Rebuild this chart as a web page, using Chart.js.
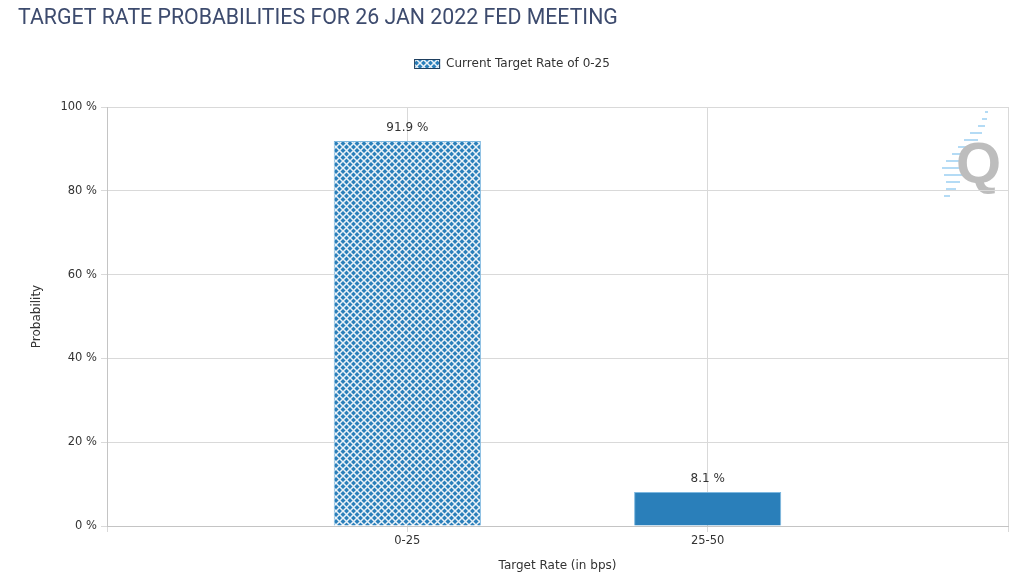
<!DOCTYPE html>
<html>
<head>
<meta charset="utf-8">
<script src="https://cdn.jsdelivr.net/npm/chart.js@4.4.1/dist/chart.umd.min.js"></script>
<style>
  html, body { margin: 0; padding: 0; background: #fff; }
  #wrap { position: relative; width: 1024px; height: 573px; }
</style>
</head>
<body>
<div id="wrap"><canvas id="rateChart" width="1024" height="573"></canvas></div>
<script>
const chartTitle = "TARGET RATE PROBABILITIES FOR 26 JAN 2022 FED MEETING";
const legendLabel = "Current Target Rate of 0-25";
const categories = ["0-25", "25-50"];
const probabilities = [91.9, 8.1];
const yTicks = [0, 20, 40, 60, 80, 100];

const barBlue = "#2a7fba";
const gridGrey = "#d9d9d9";
const textGrey = "#333333";
const uiFont = "'DejaVu Sans', Verdana, sans-serif";

// crosshatch fill for the current-rate bar
function makeHatch() {
  const size = 7;
  const tile = document.createElement("canvas");
  tile.width = size;
  tile.height = size;
  const c = tile.getContext("2d");
  c.fillStyle = barBlue;
  c.fillRect(0, 0, size, size);
  c.strokeStyle = "rgba(255,255,255,0.9)";
  c.lineWidth = 1.5;
  c.beginPath();
  c.moveTo(0, 0); c.lineTo(size, size);
  c.moveTo(size, 0); c.lineTo(0, size);
  c.stroke();
  return c.createPattern(tile, "repeat");
}

const ctx = document.getElementById("rateChart");
const hatch = makeHatch();

// category axis padded with empty slots so the two bars sit at 1/3 and 2/3
const axisLabels = ["", ...categories, ""];
const axisData = [null, ...probabilities, null];

// watermark dashes: [offset from top, left offset from right, right offset from right]
const logoDashes = [
  [5, 23, 20], [12, 26, 21], [19, 30, 23], [26, 38, 26], [33, 44, 30],
  [40, 50, 38], [47, 56, 42], [54, 62, 44], [61, 66, 45], [68, 64, 45],
  [75, 62, 48], [82, 62, 52], [89, 64, 58]
];

const decorPlugin = {
  id: "decor",
  beforeDraw(chart) {
    const c = chart.ctx;
    const area = chart.chartArea;
    c.save();
    c.strokeStyle = "rgba(130,195,238,0.6)";
    c.lineWidth = 2;
    logoDashes.forEach(([dy, l, r]) => {
      c.beginPath();
      c.moveTo(area.right - l, area.top + dy);
      c.lineTo(area.right - r, area.top + dy);
      c.stroke();
    });
    c.fillStyle = "#bdbdbd";
    c.font = "bold 58px 'Liberation Sans Narrow', 'Liberation Sans', sans-serif";
    c.textAlign = "right";
    c.textBaseline = "alphabetic";
    c.fillText("Q", area.right - 7, area.top + 76);
    c.restore();
  },
  afterDraw(chart) {
    const c = chart.ctx;
    c.save();
    // title
    c.fillStyle = "#3d4b6e";
    c.font = "21.3px Roboto, 'Liberation Sans', sans-serif";
    c.textAlign = "left";
    c.textBaseline = "middle";
    c.fillText(chartTitle, 18, 19);
    // legend
    c.font = "12px " + uiFont;
    const tw = c.measureText(legendLabel).width;
    const boxW = 26, boxH = 10, gap = 6;
    const lx = (chart.width - (boxW + gap + tw)) / 2;
    c.fillStyle = hatch;
    c.fillRect(lx, 59, boxW, boxH);
    c.strokeStyle = "#1f3f5f";
    c.lineWidth = 1;
    c.strokeRect(lx + 0.5, 59.5, boxW - 1, boxH - 1);
    c.fillStyle = textGrey;
    c.fillText(legendLabel, lx + boxW + gap, 64);
    // value labels
    c.textAlign = "center";
    c.textBaseline = "bottom";
    const meta = chart.getDatasetMeta(0);
    meta.data.forEach((bar, i) => {
      const v = axisData[i];
      if (v === null) return;
      c.fillText(v.toFixed(1) + " %", bar.x, bar.y - 7);
    });
    c.restore();
  }
};

new Chart(ctx, {
  type: "bar",
  data: {
    labels: axisLabels,
    datasets: [
      {
        label: legendLabel,
        data: axisData,
        backgroundColor: (c) => (c.dataIndex === 1 ? hatch : barBlue),
        borderColor: "#7db8e0",
        borderWidth: 1,
        barPercentage: 0.7,
        categoryPercentage: 0.7,
      },
    ],
  },
  options: {
    responsive: false,
    animation: false,
    layout: { padding: { top: 107, right: 16, left: 0, bottom: 0 } },
    plugins: {
      legend: { display: false },
      title: { display: false },
      tooltip: { enabled: false },
    },
    scales: {
      x: {
        offset: false,
        grid: { color: gridGrey, tickLength: 6, offset: false },
        border: { color: "#c4c4c4" },
        ticks: {
          color: textGrey,
          font: { family: uiFont, size: 11.5 },
          padding: 2,
          maxRotation: 0,
          autoSkip: false,
        },
        title: {
          display: true,
          text: "Target Rate (in bps)",
          color: textGrey,
          font: { family: uiFont, size: 12 },
          padding: { top: 4, bottom: 0 },
        },
        afterFit: (s) => { s.height = 47; },
      },
      y: {
        min: 0,
        max: 100,
        afterBuildTicks: (s) => { s.ticks = yTicks.map((v) => ({ value: v })); },
        grid: { color: gridGrey, tickLength: 6 },
        border: { color: "#c4c4c4" },
        ticks: {
          color: textGrey,
          font: { family: uiFont, size: 11.5 },
          padding: 4,
          callback: (v) => v + " %",
        },
        title: {
          display: true,
          text: "Probability",
          color: textGrey,
          font: { family: uiFont, size: 12 },
          padding: { top: 30, bottom: 4 },
        },
        afterFit: (s) => { s.width = 107; },
      },
    },
  },
  plugins: [decorPlugin],
});
</script>
</body>
</html>
